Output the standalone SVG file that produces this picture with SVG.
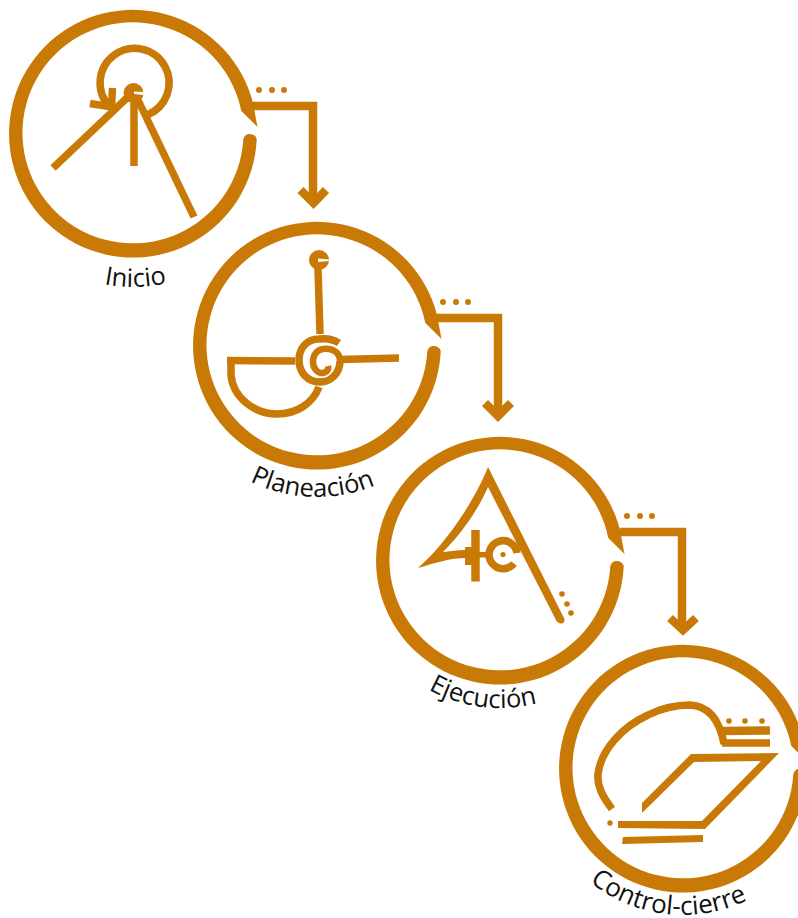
<svg xmlns="http://www.w3.org/2000/svg" width="798" height="918" viewBox="0 0 798 918">
<style>
.s{fill:none;stroke:#c97a06;stroke-width:7.5;stroke-linejoin:miter}
.s8{stroke-width:8.5}
.s6{stroke-width:6.5}
.f{fill:#c97a06}
.w{fill:#fff}
.t{font-family:"Open Sans","Noto Sans",sans-serif;font-size:25.5px;fill:#111;text-anchor:middle}
.t2{font-size:26px}
</style>
<defs>
<path id="ring" class="f" fill-rule="evenodd" d="M123.7 7 A123.900 123.900 0 1 1 120 -30 L124.5 -6 L108.300 -22 A110.500 110.500 0 1 0 110.100 9 C110 4 113 1 116 1 C120 1 124 3 123.700 7 Z"/>
<path id="a1" d="M-21 133 A154 154 0 0 0 287 133"/>
<path id="a2" d="M165 345 A152 152 0 0 0 469 345"/>
<path id="a3" d="M352 560 A148 148 0 0 0 648 560"/>
<path id="a4" d="M536 768 A147 147 0 0 0 830 768"/>
</defs>
<g id="connectors">
<path class="s s8" d="M250 106 H313 V200"/>
<path class="s s8" d="M300.500 190 L313.500 203 L326 190"/>
<circle class="f" cx="259" cy="90" r="3"/><circle class="f" cx="272" cy="90" r="3"/><circle class="f" cx="284" cy="90" r="3"/>
<path class="s s8" d="M436 318 H498 V412"/>
<path class="s s8" d="M485 403 L498 416 L511 403"/>
<circle class="f" cx="443" cy="302" r="3"/><circle class="f" cx="456" cy="302" r="3"/><circle class="f" cx="468" cy="302" r="3"/>
<path class="s s8" d="M620 532 H682 V626"/>
<path class="s s8" d="M670 618 L683 630 L696 618"/>
<circle class="f" cx="627" cy="516" r="3"/><circle class="f" cx="640" cy="516" r="3"/><circle class="f" cx="652" cy="516" r="3"/>
</g>
<g id="inicio">
<use href="#ring" x="133" y="133"/>
<path class="s" d="M147 115 A34.500 34.500 0 1 0 110 107"/>
<path class="s" d="M112.500 88 L111.500 107 L90 103.500"/>
<path class="s" d="M53 168 L129 96"/>
<path class="s" d="M134 98 V166"/>
<path class="s" d="M137 98 L194 217"/>
<circle class="f" cx="133.500" cy="93" r="10"/>
<path class="w" d="M134 91.500 L144 92 L143 95 L134 94 Z"/>
<text class="t"><textPath href="#a1" startOffset="50.500%">Inicio</textPath></text>
</g>
<g id="planeacion">
<use href="#ring" x="317" y="345"/>
<circle class="f" cx="319" cy="260" r="10"/>
<path class="w" d="M318 258.500 L329 259.500 L329 261 L318 262 Z"/>
<path class="s" d="M318 268 L320 334"/>
<path class="s" d="M339 343 C333 339 327 338 319 339 C307 339 299 348 299 360 C299 373 308 382 320 382 C331 382 340 373 340 361"/>
<path class="s s6" d="M340 361 C340 352 332 348 323 349 C316 350 313 356 313 362 C313 369 318 373 322 373 C326 373 329 370 328 366"/>
<path class="s" d="M340 359.500 L399 358"/>
<path class="s" d="M295 361 L227 360.500"/>
<path class="s" d="M231 360 V375 C233 398 255 414 277 414 C297 414 313 403 319 387"/>
<text class="t"><textPath href="#a2" startOffset="49%">Planeación</textPath></text>
</g>
<g id="ejecucion">
<use href="#ring" x="500" y="560"/>
<path class="f" d="M488 467 C477 495 450 540 418 568 C435 563 450 558 466 558 L466 550 C458 550 452 551 443 552 C462 533 478 510 488 487 L557 622 L564 618 Z"/>
<circle class="f" cx="561" cy="620" r="3.500"/>
<path class="s s8" d="M475.500 530 L475.500 581.500"/>
<rect class="f" x="465" y="547" width="8" height="18"/>
<rect class="f" x="478" y="552" width="9" height="5.500"/>
<path class="s" d="M517 553 A14 14 0 1 0 514 563.500"/>
<circle class="f" cx="503" cy="554.500" r="2.600"/>
<circle class="f" cx="562" cy="594" r="2.800"/><circle class="f" cx="567" cy="604" r="2.800"/><circle class="f" cx="571" cy="613" r="2.800"/>
<text class="t"><textPath href="#a3" startOffset="46%">Ejecución</textPath></text>
</g>
<g id="control-cierre">
<use href="#ring" x="683" y="768"/>
<path class="s" d="M612 809 C603 797 597 787 598 774 C601 750 622 727 648 715 C662 708 675 705 690 705 C710 706 720 722 724 744"/>
<path class="s s8" d="M722 731 L770 730.500"/>
<path class="s" d="M722 743 L770 743"/>
<circle class="f" cx="729" cy="721" r="2.800"/><circle class="f" cx="745" cy="721" r="2.800"/><circle class="f" cx="762" cy="721" r="2.800"/>
<path class="f" d="M691 754 L779 753 L705 829 L618 828 L618 821 L702 821 L761 761 L694 762 L642 813 L642 803 Z"/>
<path class="f" d="M623 837 L703 835 L703 842 L622 844 Z"/>
<circle class="f" cx="610" cy="823" r="2.700"/>
<text class="t t2"><textPath href="#a4" startOffset="46.300%">Control-cierre</textPath></text>
</g>
</svg>
